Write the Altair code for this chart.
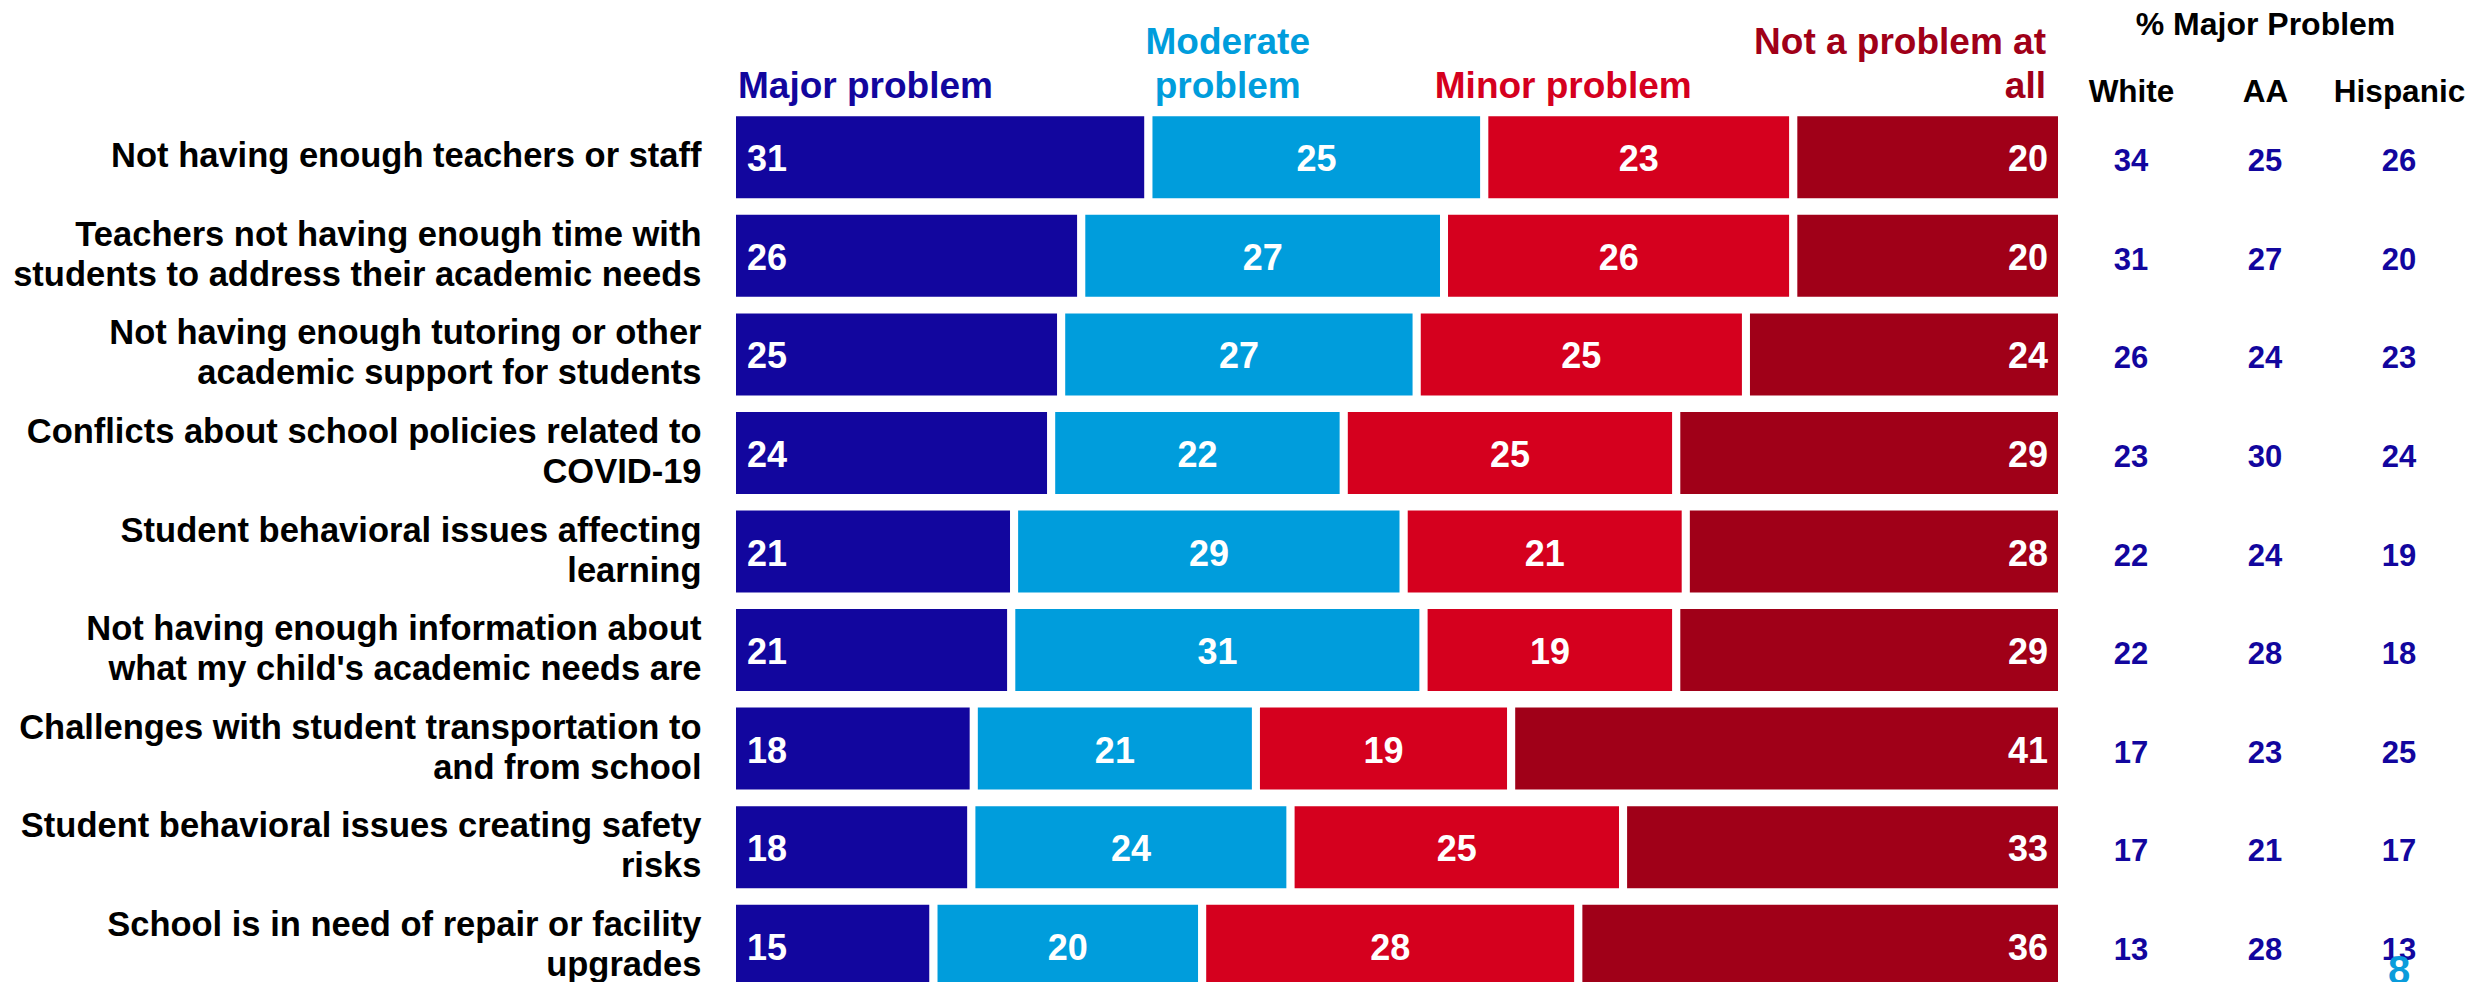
import altair as alt
import pandas as pd

FONT = "Liberation Sans"

items = [
    "Not having enough teachers or staff",
    "Teachers not having enough time with|students to address their academic needs",
    "Not having enough tutoring or other|academic support for students",
    "Conflicts about school policies related to|COVID-19",
    "Student behavioral issues affecting|learning",
    "Not having enough information about|what my child's academic needs are",
    "Challenges with student transportation to|and from school",
    "Student behavioral issues creating safety|risks",
    "School is in need of repair or facility|upgrades",
]
major = [31, 26, 25, 24, 21, 21, 18, 18, 15]
moderate = [25, 27, 27, 22, 29, 31, 21, 24, 20]
minor = [23, 26, 25, 25, 21, 19, 19, 25, 28]
not_at_all = [20, 20, 24, 29, 28, 29, 41, 33, 36]

levels = ["Major problem", "Moderate problem", "Minor problem", "Not a problem at all"]
level_headers = ["Major problem", "Moderate\nproblem", "Minor problem", "Not a problem at\nall"]
level_colors = ["#12069E", "#009DDC", "#D5001E", "#A00018"]

groups = ["White", "AA", "Hispanic"]
white = [34, 31, 26, 23, 22, 22, 17, 17, 13]
aa = [25, 27, 24, 30, 24, 28, 23, 21, 28]
hispanic = [26, 20, 23, 24, 19, 18, 25, 17, 13]
table_title = "% Major Problem"
page_number = "8"

# ---- tables built from the arrays ----
bar_rows = []
for i, it in enumerate(items):
    for k, vals in enumerate([major, moderate, minor, not_at_all]):
        bar_rows.append({"item": it, "level": levels[k], "order": k, "value": vals[i]})
bars_df = pd.DataFrame(bar_rows)

tab_rows = []
for i, it in enumerate(items):
    for g, vals in zip(groups, [white, aa, hispanic]):
        tab_rows.append({"item": it, "group": g, "value": vals[i]})
table_df = pd.DataFrame(tab_rows)

header_df = pd.DataFrame({"level": levels, "header": level_headers})
page_df = pd.DataFrame({"item": [items[-1]], "group": [groups[-1]], "text": [page_number]})

W = 1330
H = 887
LH = 40

y_enc = alt.Y(
    "item:N",
    scale=alt.Scale(domain=items, paddingInner=0.087, paddingOuter=0.0436),
    axis=alt.Axis(
        title=None,
        labelExpr="split(datum.label, '|')",
        labelFont=FONT, labelFontSize=34.5, labelFontWeight="bold", labelColor="black",
        labelPadding=31, labelLimit=1000, labelLineHeight=LH, labelBaseline="middle",
        labelOffset={"condition": {"test": "indexof(datum.value, '|') >= 0", "value": -LH / 2}, "value": 0},
        domain=False, ticks=False, grid=False, minExtent=724, maxExtent=724,
    ),
)
color_enc = alt.Color("level:N", scale=alt.Scale(domain=levels, range=level_colors), legend=None)
xq = alt.Scale(domain=[0, 1])

base = alt.Chart(bars_df).transform_stack(
    stack="value", groupby=["item"], as_=["v0", "v1"], offset="normalize",
    sort=[alt.SortField("order", "ascending")],
).transform_calculate(mid="(datum.v0 + datum.v1) / 2")

bars = base.mark_bar(stroke="white", strokeWidth=8).encode(
    x=alt.X("v0:Q", scale=xq, axis=None),
    x2="v1:Q",
    y=y_enc,
    color=color_enc,
)

num_style = dict(font=FONT, fontSize=36, fontWeight="bold", color="white", baseline="middle", dy=3)
lab_left = base.transform_filter(alt.datum.order == 0).mark_text(align="left", dx=15, **num_style).encode(
    x=alt.X("v0:Q", scale=xq, axis=None), y=y_enc, text="value:Q")
lab_mid = base.transform_filter((alt.datum.order == 1) | (alt.datum.order == 2)).mark_text(align="center", **num_style).encode(
    x=alt.X("mid:Q", scale=xq, axis=None), y=y_enc, text="value:Q")
lab_right = base.transform_filter(alt.datum.order == 3).mark_text(align="right", dx=-14, **num_style).encode(
    x=alt.X("v1:Q", scale=xq, axis=None), y=y_enc, text="value:Q")

# ---- column headers above the bars (four equal columns) ----
hscale = alt.Scale(domain=levels, paddingInner=0, paddingOuter=0)
half_band = W / len(levels) / 2
hdr_aligns = ["left", "center", "center", "right"]
hdr_dx = [-half_band + 6, -3, 0, half_band - 16]
HLH = 44
hdr_layers = []
for lv, hd, al, dx in zip(levels, level_headers, hdr_aligns, hdr_dx):
    n_lines = hd.count("\n") + 1
    hdr_layers.append(
        alt.Chart(header_df).transform_filter(alt.datum.level == lv).mark_text(
            font=FONT, fontSize=37, fontWeight="bold", baseline="alphabetic",
            lineBreak="\n", lineHeight=HLH, align=al, dx=dx,
        ).encode(
            x=alt.X("level:N", scale=hscale, axis=None),
            y=alt.value(-10 - HLH * (n_lines - 1)),
            text="header:N",
            color=color_enc,
        )
    )

# ---- % Major Problem table ----
tscale = alt.Scale(domain=groups, range=[W + 2, W + 404], paddingInner=0, paddingOuter=0)
table = alt.Chart(table_df).mark_text(
    font=FONT, fontSize=31, fontWeight="bold", color="#12069E", baseline="middle", dy=5
).encode(
    x=alt.X("group:N", scale=tscale, sort=groups, axis=alt.Axis(
        orient="top", title=table_title, titleFont=FONT, titleFontSize=32, titleFontWeight="bold",
        titleColor="black", titleBaseline="alphabetic", titleY=-74,
        labelFont=FONT, labelFontSize=31.5, labelFontWeight="bold", labelColor="black",
        labelAngle=0, labelBaseline="alphabetic", labelPadding=7,
        domain=False, ticks=False, grid=False,
    )),
    y=y_enc,
    text="value:Q",
)
page = alt.Chart(page_df).mark_text(
    font=FONT, fontSize=40, fontWeight="bold", color="#0A9CDB", baseline="alphabetic", dy=38
).encode(
    x=alt.X("group:N", scale=tscale, sort=groups, axis=None),
    y=y_enc,
    text="text:N",
)

chart = alt.layer(
    bars, lab_left, lab_mid, lab_right, *hdr_layers, table, page
).resolve_scale(x="independent").resolve_axis(x="independent").properties(
    width=W, height=H, padding=0
).configure_view(stroke=None)

chart.save("out.html", embed_options={"renderer": "svg", "actions": False})
